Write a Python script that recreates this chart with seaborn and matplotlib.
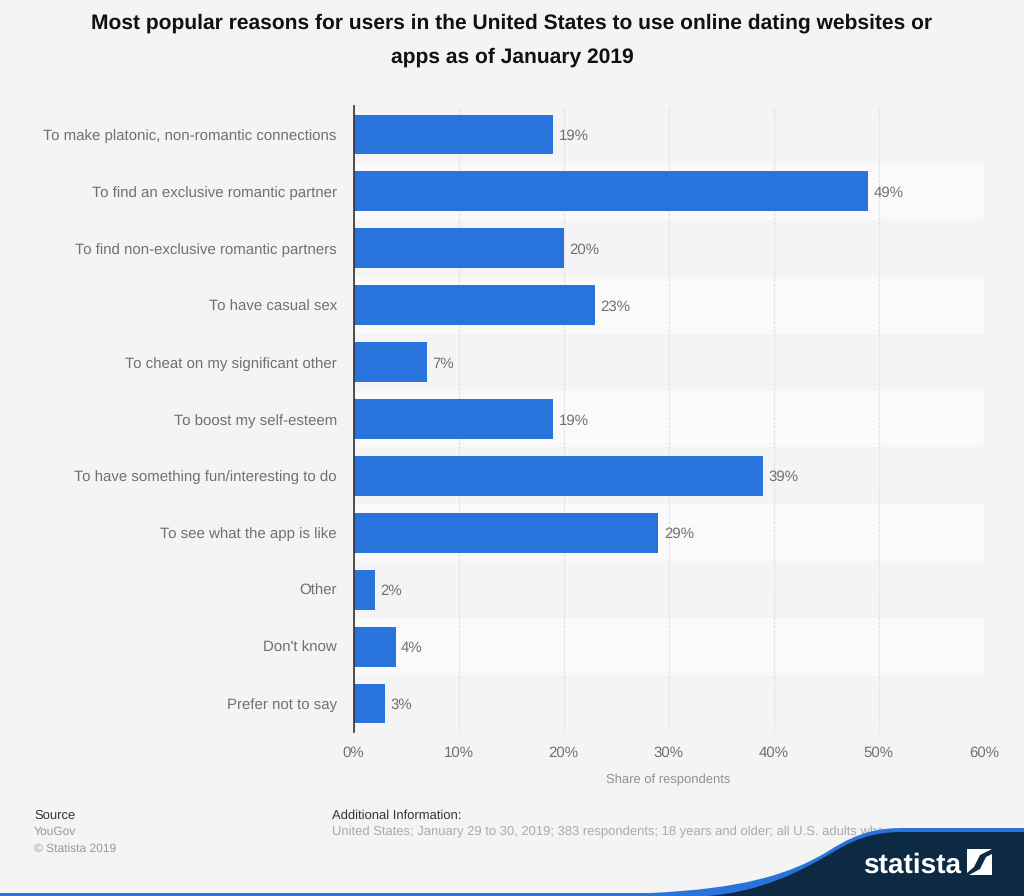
import matplotlib
matplotlib.use("Agg")
import matplotlib.pyplot as plt
import pandas as pd
import seaborn as sns
from matplotlib.patches import PathPatch, Polygon
from matplotlib.path import Path

reasons = [
    "To make platonic, non-romantic connections",
    "To find an exclusive romantic partner",
    "To find non-exclusive romantic partners",
    "To have casual sex",
    "To cheat on my significant other",
    "To boost my self-esteem",
    "To have something fun/interesting to do",
    "To see what the app is like",
    "Other",
    "Don't know",
    "Prefer not to say",
]
shares = [19, 49, 20, 23, 7, 19, 39, 29, 2, 4, 3]
x_ticks = [0, 10, 20, 30, 40, 50, 60]

BG = "#f4f4f4"
BLUE = "#2873dc"
NAVY = "#0c2a44"

sns.set_theme(style="white")
plt.rcParams["font.family"] = ["Liberation Sans", "DejaVu Sans"]
plt.rcParams["text.hinting"] = "no_hinting"
plt.rcParams["text.hinting_factor"] = 1

df = pd.DataFrame({"reason": reasons, "share": shares})

fig = plt.figure(figsize=(10.24, 8.96), dpi=100, facecolor=BG)
ax = fig.add_axes([353.5 / 1024, 1 - 732 / 896, 630.5 / 1024, 626 / 896], facecolor=BG)

# lighter band behind every second row
for i in range(len(reasons)):
    if i % 2 == 1:
        ax.axhspan(i - 0.5, i + 0.5, color="#fafafa", lw=0, zorder=0)

sns.barplot(data=df, y="reason", x="share", color=BLUE, saturation=1, width=0.7, linewidth=0, ax=ax, zorder=3)
ax.set_xlim(0, 60)
ax.set_ylim(len(reasons) - 0.5, -0.5)

ax.xaxis.grid(True, color="#e2e2e2", lw=1, ls=(0, (2, 1)), zorder=1)
ax.set_axisbelow(False)
for line in ax.get_xgridlines():
    line.set_zorder(1)

sns.despine(ax=ax, left=False, top=True, right=True, bottom=True)
ax.spines["left"].set_color("#333333")
ax.spines["left"].set_linewidth(1.2)
ax.spines["left"].set_zorder(5)

ax.set_xticks(x_ticks)
ax.set_xticklabels([f"{t}%" for t in x_ticks])
ax.tick_params(axis="x", length=0, pad=10, labelsize=10.6, labelcolor="#707070")
ax.tick_params(axis="y", length=0, pad=12, labelsize=11, labelcolor="#707070")
ax.set_ylabel("")
ax.set_xlabel("Share of respondents", fontsize=9.2, color="#909090")
ax.xaxis.set_label_coords(0.499, -0.0675)

bar_texts = ax.bar_label(ax.containers[0], fmt="%g%%", padding=4, fontsize=10.6, color="#707070")
for t in bar_texts:
    t.set_verticalalignment("center_baseline")

fig.text(0.5, 1 - 23 / 896, "Most popular reasons for users in the United States to use online dating websites or",
         ha="center", va="center", fontsize=15.35, fontweight="bold", color="#111111")
fig.text(0.5, 1 - 57 / 896, "apps as of January 2019",
         ha="center", va="center", fontsize=15.35, fontweight="bold", color="#111111")

fig.text(34 / 1024, 1 - 816 / 896, "Source", va="center", fontsize=9.2, color="#333333")
fig.text(34 / 1024, 1 - 832 / 896, "YouGov", va="center", fontsize=8.8, color="#999999")
fig.text(34 / 1024, 1 - 849 / 896, "© Statista 2019", va="center", fontsize=8.8, color="#999999")
fig.text(332 / 1024, 1 - 816 / 896, "Additional Information:", va="center", fontsize=9.2, color="#333333")
fig.text(332 / 1024, 1 - 832 / 896,
         "United States; January 29 to 30, 2019; 383 respondents; 18 years and older; all U.S. adults who",
         va="center", fontsize=9, color="#aaaaaa")

# footer swoosh in pixel coordinates
over = fig.add_axes([0, 0, 1, 1], facecolor="none", zorder=10)
over.set_xlim(0, 1024)
over.set_ylim(896, 0)
over.axis("off")

curve = [Path.CURVE4] * 3
blue_path = Path(
    [(0, 893), (650, 893), (740, 889), (790, 875), (830, 850), (860, 831), (880, 828), (905, 828),
     (1024, 828), (1024, 896), (0, 896), (0, 893)],
    [Path.MOVETO, Path.LINETO] + curve + curve + [Path.LINETO, Path.LINETO, Path.LINETO, Path.CLOSEPOLY],
)
over.add_patch(PathPatch(blue_path, facecolor=BLUE, edgecolor="none"))
navy_path = Path(
    [(707, 896), (760, 892), (800, 872), (835, 851), (862, 835), (880, 832), (905, 832),
     (1024, 832), (1024, 896), (707, 896)],
    [Path.MOVETO] + curve + curve + [Path.LINETO, Path.LINETO, Path.CLOSEPOLY],
)
over.add_patch(PathPatch(navy_path, facecolor=NAVY, edgecolor="none"))

over.text(863, 873, "statista", color="white", fontsize=19.8, fontweight="bold", va="baseline", ha="left")
over.add_patch(Polygon([(967, 849), (992, 849), (980, 855), (974, 867), (967, 873)], facecolor="white", edgecolor="none"))
over.add_patch(Polygon([(992, 854), (992, 875), (969, 875), (980, 869), (986, 857)], facecolor="white", edgecolor="none"))

fig.savefig("out.png", dpi=100, facecolor=BG)
